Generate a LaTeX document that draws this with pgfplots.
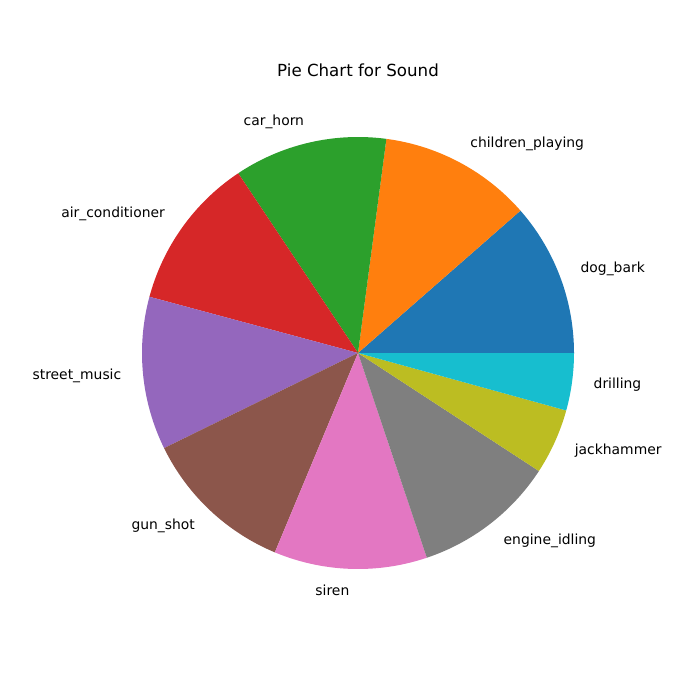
\documentclass[border=0pt]{standalone}
\usepackage{pgfplots}
\pgfplotsset{compat=1.18}
\usepackage{pgfplotstable}
\usepackage{fontspec}
\setmainfont{DejaVu Sans}
\definecolor{pie0}{HTML}{1F77B4}
\definecolor{pie1}{HTML}{FF7F0E}
\definecolor{pie2}{HTML}{2CA02C}
\definecolor{pie3}{HTML}{D62728}
\definecolor{pie4}{HTML}{9467BD}
\definecolor{pie5}{HTML}{8C564B}
\definecolor{pie6}{HTML}{E377C2}
\definecolor{pie7}{HTML}{7F7F7F}
\definecolor{pie8}{HTML}{BCBD22}
\definecolor{pie9}{HTML}{17BECF}

\pgfplotstableread[col sep=comma]{
label,value
dog\_bark,1000
children\_playing,1000
car\_horn,1000
air\_conditioner,1000
street\_music,1000
gun\_shot,1000
siren,1000
engine\_idling,929
jackhammer,429
drilling,374
}\piedata

\pgfplotstablegetrowsof{\piedata}
\edef\nrows{\pgfplotsretval}
\pgfmathtruncatemacro\lastrow{\nrows-1}
\gdef\total{0}
\foreach \i in {0,...,\lastrow}{%
  \pgfplotstablegetelem{\i}{value}\of\piedata
  \pgfmathsetmacro\t{\total+\pgfplotsretval}%
  \global\let\total\t
}
\gdef\cum{0}
\foreach \i in {0,...,\lastrow}{%
  \pgfplotstablegetelem{\i}{value}\of\piedata
  \pgfmathsetmacro\a{\cum}%
  \pgfmathsetmacro\frac{\pgfplotsretval/\total}%
  \pgfmathsetmacro\b{\cum+360*\frac}%
  \pgfmathsetmacro\m{(\a+\b)/2}%
  \pgfmathsetmacro\cx{cos(\m)}%
  \expandafter\xdef\csname pieA\i\endcsname{\a}%
  \expandafter\xdef\csname pieB\i\endcsname{\b}%
  \expandafter\xdef\csname pieM\i\endcsname{\m}%
  \ifdim\cx pt>0pt
    \expandafter\gdef\csname pieN\i\endcsname{west}%
  \else
    \expandafter\gdef\csname pieN\i\endcsname{east}%
  \fi
  \global\let\cum\b
  \pgfplotstablegetelem{\i}{label}\of\piedata
  \expandafter\global\expandafter\let\csname pieL\i\endcsname\pgfplotsretval
}

\begin{document}
\begin{tikzpicture}
\begin{axis}[
  scale only axis,
  width=504pt, height=504pt,
  xmin=-1.6574, xmax=1.5833,
  ymin=-1.6065, ymax=1.6343,
  hide axis,
  clip=false,
]
\pgfplotsforeachungrouped \i in {0,...,9}{%
  \edef\doit{\noexpand\addplot[fill=pie\i, draw=none, domain=\csname pieA\i\endcsname:\csname pieB\i\endcsname, samples=80] ({cos(x)},{sin(x)}) -- (axis cs:0,0) -- cycle;}%
  \doit
}
\pgfplotsforeachungrouped \i in {0,...,9}{%
  \edef\doit{\noexpand\node[anchor=\csname pieN\i\endcsname, inner sep=0pt, font=\noexpand\fontsize{10}{12}\noexpand\selectfont] at (axis cs:{1.1*cos(\csname pieM\i\endcsname)},{1.1*sin(\csname pieM\i\endcsname)}) {\expandafter\noexpand\csname pieL\i\endcsname};}%
  \doit
}
\node[font=\fontsize{12}{14}\selectfont] at (axis cs:0,1.310) {Pie Chart for Sound};
\end{axis}
\path (current axis.south west) rectangle (current axis.north east);
\end{tikzpicture}
\end{document}
